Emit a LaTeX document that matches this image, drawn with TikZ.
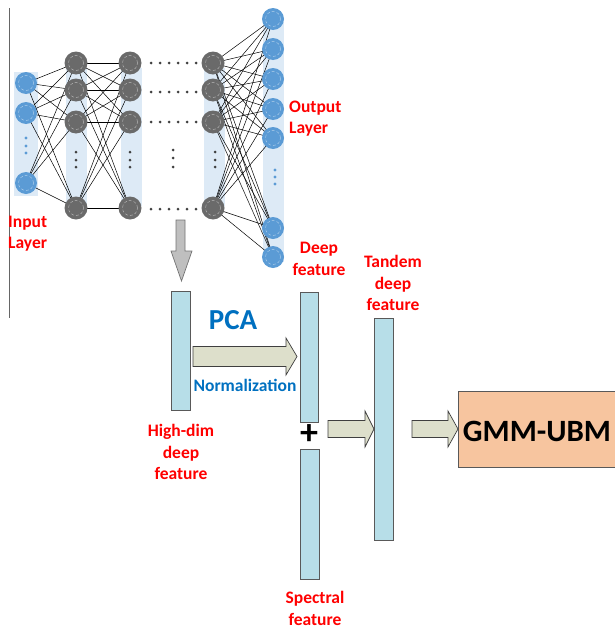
\documentclass[tikz,border=0pt]{standalone}
\usepackage{fontspec}
\setmainfont{Carlito}

\definecolor{nblue}{HTML}{5B9BD5}
\definecolor{ngray}{HTML}{6A6A6A}
\definecolor{colbg}{HTML}{DDEAF6}
\definecolor{barfill}{HTML}{B7DEE8}
\definecolor{bardraw}{HTML}{595959}
\definecolor{arrfill}{HTML}{DDDFCB}
\definecolor{arrdraw}{HTML}{3F3F3F}
\definecolor{gmmfill}{HTML}{F7C59F}
\definecolor{labred}{HTML}{FF0000}
\definecolor{pcablue}{HTML}{0070C0}
\definecolor{dotc}{HTML}{404040}

\pgfdeclarelayer{cols}
\pgfdeclarelayer{links}
\pgfsetlayers{cols,links,main}

% block arrow: #1 tail x, #2 head start x, #3 tip x, #4 centre y, #5 shaft half, #6 head half
\newcommand\blkarrow[6]{%
  \draw[blockarrow] (#1,#4-#5) -- (#2,#4-#5) -- (#2,#4-#6) -- (#3,#4)
    -- (#2,#4+#6) -- (#2,#4+#5) -- (#1,#4+#5) -- cycle;}

\begin{document}
\begin{tikzpicture}[x=1pt,y=-1pt,
  neuron/.style={circle, inner sep=0, minimum size=#1,
    path picture={\draw[white, opacity=0.55, densely dashed, line width=0.4pt]
      (path picture bounding box.center) circle (7.5pt);}},
  bneuron/.style={neuron=22pt, fill=nblue},
  gneuron/.style={neuron=23pt, fill=ngray},
  link/.style={black, line width=0.5pt},
  colrect/.style={fill=colbg},
  featbar/.style={rectangle, draw=bardraw, fill=barfill, line width=0.8pt, inner sep=0},
  blockarrow/.style={fill=arrfill, draw=arrdraw, line width=0.7pt, line join=miter},
  lab/.style={font=\fontsize{17.5}{21.5}\selectfont\bfseries, text=labred, align=center, inner sep=0},
  bdot/.style={fill=nblue},
  gdot/.style={fill=dotc},
]
\useasboundingbox (0,0) rectangle (614,629);

% left rule
\draw[gray!80!black, line width=0.9pt] (9,8) -- (9,318);

% layer columns
\begin{pgfonlayer}{cols}
  \fill[colrect] (14,72) rectangle (38,196);
  \fill[colrect] (66,68) rectangle (87,206);
  \fill[colrect] (121,68) rectangle (142,206);
  \fill[colrect] (204,68) rectangle (225,206);
  \fill[colrect] (263,22) rectangle (284,262);
\end{pgfonlayer}

% input layer
\node[bneuron] (i1) at (26,83) {};
\node[bneuron] (i2) at (26,113) {};
\node[bneuron] (i3) at (26,183) {};
\foreach \y in {138,146,153} \fill[bdot] (26,\y) circle (1.6pt);

% hidden layers
\foreach \n/\x in {a/76,b/130,c/213}{
  \node[gneuron] (\n1) at (\x,63) {};
  \node[gneuron] (\n2) at (\x,90) {};
  \node[gneuron] (\n3) at (\x,122) {};
  \node[gneuron] (\n4) at (\x,208) {};
}
\foreach \x in {76,130,215} \foreach \y in {152,160,167} \fill[gdot] (\x,\y) circle (1.5pt);

% elided middle layers
\foreach \y in {63,92,122,209} \foreach \k in {0,...,5} \fill[gdot] (151+9*\k,\y) circle (1.5pt);
\foreach \y in {150,158,167} \fill[gdot] (173,\y) circle (1.5pt);

% output layer
\foreach \k/\y in {1/19,2/49,3/79,4/109,5/138,6/228,7/257}
  \node[bneuron] (o\k) at (273,\y) {};
\foreach \y in {170,177,184} \fill[bdot] (275,\y) circle (1.6pt);

% full connections
\begin{pgfonlayer}{links}
  \foreach \p in {1,2,3} \foreach \q in {1,...,4} \draw[link] (i\p.center) -- (a\q.center);
  \foreach \p in {1,...,4} \foreach \q in {1,...,4} \draw[link] (a\p.center) -- (b\q.center);
  \foreach \p in {1,...,4} \foreach \q in {1,...,7} \draw[link] (c\p.center) -- (o\q.center);
\end{pgfonlayer}

% layer labels
\node[lab, align=left, anchor=west] (inlab) at (8,233.5) {Input\\Layer};
\node[lab, align=left, anchor=west] (outlab) at (289,118.5) {Output\\Layer};

% feature extraction arrow
\draw[fill=gray!50, draw=gray!90!black, line width=0.7pt]
  (176,220) -- (185,220) -- (185,251) -- (192,251) -- (181.5,281)
  -- (171,251) -- (176,251) -- cycle;

% feature vectors
\node[featbar, minimum width=19pt, minimum height=119pt] (hd) at (180.5,350.5) {};
\node[featbar, minimum width=18.5pt, minimum height=130pt] (df) at (309.25,357) {};
\node[featbar, minimum width=19pt, minimum height=130pt] (sp) at (309.5,514) {};
\node[featbar, minimum width=19pt, minimum height=222pt] (td) at (383.5,429) {};

% back-end model
\node[rectangle, draw=bardraw, fill=gmmfill, line width=0.8pt,
      minimum width=158pt, minimum height=76pt, inner sep=0, text height=26pt,
      font=\fontsize{31}{36}\selectfont\bfseries] (gmm) at (537,429) {GMM-UBM};

% block arrows
\blkarrow{193}{286}{297}{356.5}{10}{18.5}
\blkarrow{328}{365}{374}{429}{8.5}{18}
\blkarrow{412}{448}{458}{429}{8.5}{18}

% texts
\node[font=\fontsize{29}{34}\selectfont\bfseries, text=pcablue, inner sep=0] (pca) at (233,320) {PCA};
\node[font=\fontsize{17.5}{21}\selectfont\bfseries, text=pcablue, inner sep=0] (norm) at (245,385) {Normalization};
\node[lab] (hdlab) at (181,452) {High-dim\\deep\\feature};
\node[lab] (dflab) at (319,259) {Deep\\feature};
\node[lab] (tdlab) at (393,283) {Tandem\\deep\\feature};
\node[lab] (splab) at (315,608.5) {Spectral\\feature};
\node[font=\fontsize{36}{38}\selectfont\bfseries, inner sep=0] (plus) at (309,435) {+};
\end{tikzpicture}
\end{document}
